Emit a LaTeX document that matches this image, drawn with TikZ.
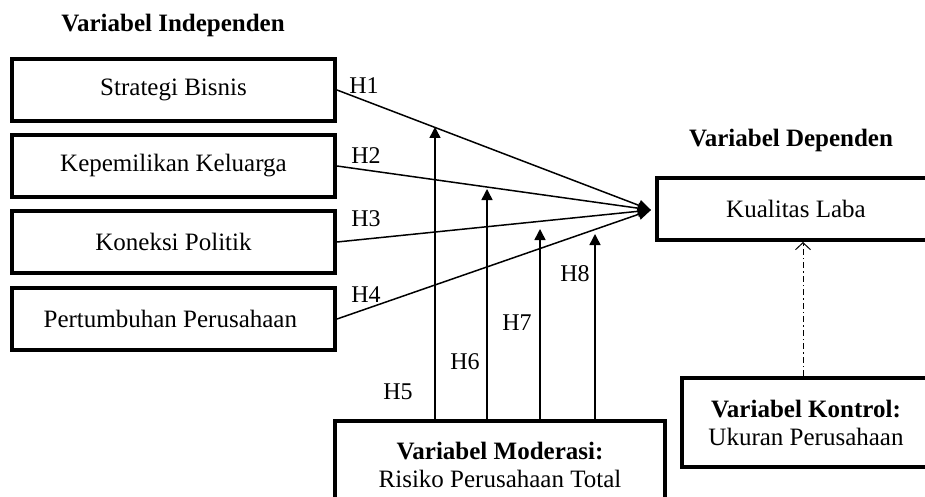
\documentclass[tikz,border=0pt]{standalone}
\usepackage{fontspec}
\setmainfont{Liberation Serif}
\usetikzlibrary{arrows.meta}

\def\boxwidth{323}
\def\boxheight{62}

\begin{document}
\begin{tikzpicture}[x=1pt, y=-1pt,
    nodes = {font=\fontsize{25}{28}\selectfont},
    varbox/.style = {draw, line width=4pt, inner sep=0pt, align=center},
    hlabel/.style = {font=\fontsize{24}{28}\selectfont, inner sep=0pt},
    mainarrow/.style = {line width=1.5pt, -{Triangle[length=13pt,width=11pt]}},
    modarrow/.style = {line width=1.5pt, -{Triangle[length=11pt,width=11pt]}},
    ctrlarrow/.style = {line width=1pt, dash pattern=on 6pt off 3pt on 1.5pt off 3pt,
      -{Straight Barb[length=7pt,width=15pt]}}]
  \clip (0,0) rectangle (925,497);

  % Titles
  \node (indep) at (173,25) {\bfseries Variabel Independen};
  \node (dep) at (791,140) {\bfseries Variabel Dependen};

  % Independent variables
  \foreach \y/\name/\txt in {
      90/strategi/Strategi Bisnis,
      166/keluarga/Kepemilikan Keluarga,
      242/politik/Koneksi Politik,
      319/pertumbuhan/Pertumbuhan Perusahaan
    } {
      \node[varbox, minimum width=\boxwidth pt, minimum height=\boxheight pt]
        (\name) at (173.5,\y) {\txt};
    };

  % Dependent, moderating and control variables
  \node[varbox, minimum width=278pt, minimum height=62pt] (laba) at (796,209) {Kualitas Laba};
  \node[varbox, minimum width=330pt, minimum height=87pt] (moderasi) at (500,464.5)
    {\textbf{Variabel Moderasi:}\\Risiko Perusahaan Total};
  \node[varbox, minimum width=248pt, minimum height=89pt] (kontrol) at (806,422.5)
    {\textbf{Variabel Kontrol:}\\Ukuran Perusahaan};

  \coordinate (hub) at (651,210);                 % Where H1--H4 meet

  % Direct effects H1--H4
  \foreach \name/\hx/\hy/\i in {
      strategi/364/86/1,
      keluarga/366/156/2,
      politik/366/219/3,
      pertumbuhan/366/295/4
    } {
      \draw[mainarrow] (\name.east) -- (hub);
      \node[hlabel] (h\i) at (\hx,\hy) {H\i};
    };

  % Moderating effects H5--H8
  \foreach \x/\tip/\hx/\hy/\i in {
      435/127/398/392/5,
      487/189/465/362/6,
      540/229/517/323/7,
      595/234/575/274/8
    } {
      \coordinate (m\i) at (\x,\tip);              % Tip sits under the H line
      \draw[modarrow] (moderasi.north -| m\i) -- (m\i);
      \node[hlabel] (h\i) at (\hx,\hy) {H\i};
    };

  % Control variable
  \draw[ctrlarrow] ([xshift=-3pt]kontrol.north) -- ([xshift=-3pt]kontrol.north |- laba.south);
\end{tikzpicture}
\end{document}
